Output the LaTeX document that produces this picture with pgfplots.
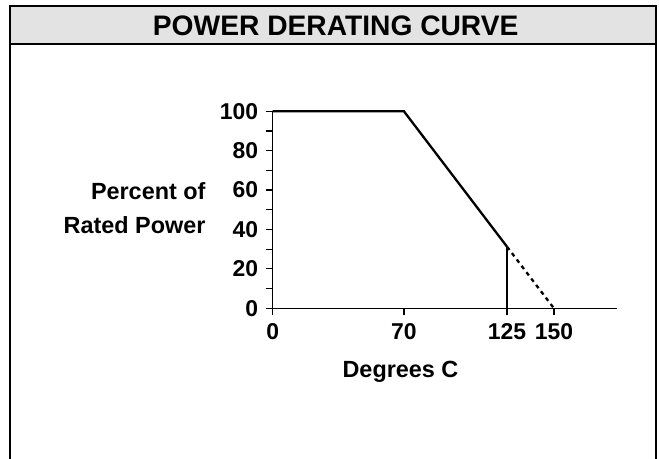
\documentclass[border=0pt]{standalone}
\usepackage{fontspec}
\setmainfont{Liberation Sans}
\usepackage{pgfplots}
\pgfplotsset{compat=1.18}
\definecolor{titlegray}{HTML}{E3E3E3}
\begin{document}
\begin{tikzpicture}[x=1bp,y=1bp]
\clip (-272.7,-150.7) rectangle (386.3,308.3);
% frame and title bar
\fill[titlegray] (-262.7,302.3) rectangle (383.3,264.3);
\draw[line width=2bp] (-262.7,-170) -- (-262.7,302.3) -- (383.3,302.3) -- (383.3,-170);
\draw[line width=2bp] (-262.7,264.3) -- (383.3,264.3);
\node[anchor=base,inner sep=0pt,font=\bfseries\fontsize{28.3}{28.3}\selectfont] at (63,272.6) {POWER DERATING CURVE};
% axis labels
\node[anchor=base east,inner sep=0pt,font=\bfseries\fontsize{23.5}{23.5}\selectfont] at (-67,109) {Percent of};
\node[anchor=base east,inner sep=0pt,font=\bfseries\fontsize{23.5}{23.5}\selectfont] at (-67,74.8) {Rated Power};
\node[anchor=base,inner sep=0pt,font=\bfseries\fontsize{23.5}{23.5}\selectfont] at (127.8,-69) {Degrees C};
\begin{axis}[
  at={(0,0)}, anchor=origin,
  scale only axis,
  width=344bp, height=197bp,
  xmin=0, xmax=183.5, ymin=0, ymax=100,
  axis x line=bottom, axis y line=left,
  axis line style={-, line width=1.4bp},
  xtick={0,70,125,150},
  ytick={0,20,40,60,80,100},
  minor ytick={10,30,50,70,90},
  tick align=outside,
  major tick length=7bp, minor tick length=7bp,
  tick style={black, line width=1.2bp},
  /pgf/number format/assume math mode=true,
  ticklabel style={font=\bfseries\fontsize{23}{23}\selectfont},
  xticklabel style={yshift=-5bp},
  yticklabel style={xshift=-4bp},
  clip=false,
]
\addplot[black, line width=2.3bp] coordinates {(0,100) (70,100) (125,31.25)};
\addplot[black, line width=1.9bp] coordinates {(125,0) (125,31.25)};
\addplot[black, line width=2.3bp, dash pattern=on 4bp off 4bp] coordinates {(125,31.25) (150,0)};
\end{axis}
\end{tikzpicture}
\end{document}
